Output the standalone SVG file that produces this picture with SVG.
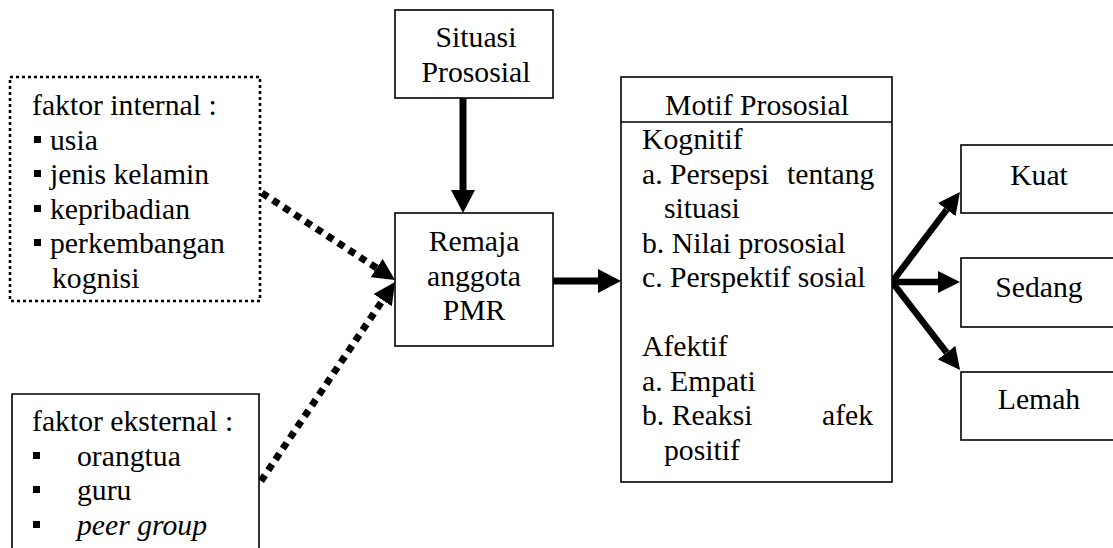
<svg xmlns="http://www.w3.org/2000/svg" width="1113" height="548" viewBox="0 0 1113 548">
<style>
text{font-family:"Liberation Serif","Times New Roman",Times,Tinos,"Nimbus Roman","Nimbus Roman No9 L",FreeSerif,"DejaVu Serif","Noto Serif",serif;font-size:29.7px;fill:#000}
.c{text-anchor:middle}
.box{fill:#fff;stroke:#000;stroke-width:1.6}
.dotbox{fill:#fff;stroke:#000;stroke-width:2.6;stroke-dasharray:3 3}
.solid{stroke:#000;stroke-width:7;fill:none}
.fan{stroke:#000;stroke-width:6.5;fill:none}
.dots{stroke:#000;stroke-width:7;stroke-dasharray:7 6;fill:none}
.bul{fill:#000}
</style>
<defs>
<marker id="ah" markerUnits="userSpaceOnUse" viewBox="0 -12 23 24" refX="0" refY="0" markerWidth="23" markerHeight="24" orient="auto">
<path d="M0,-12 L23,0 L0,12 z" fill="#000"/>
</marker>
<marker id="ah2" markerUnits="userSpaceOnUse" viewBox="0 -11 22 22" refX="0" refY="0" markerWidth="22" markerHeight="22" orient="auto">
<path d="M0,-11 L22,0 L0,11 z" fill="#000"/>
</marker>
</defs>

<g id="connectors">
<line class="solid" x1="463" y1="98" x2="463" y2="190" marker-end="url(#ah)"/>
<line class="solid" x1="553" y1="281" x2="598" y2="281" marker-end="url(#ah)"/>
<line class="dots" x1="262" y1="193" x2="376.6" y2="268" marker-end="url(#ah2)"/>
<line class="dots" x1="261" y1="481" x2="382.7" y2="300.2" marker-end="url(#ah2)"/>
<line class="fan" x1="892" y1="282" x2="946.7" y2="209.6" marker-end="url(#ah2)"/>
<line class="fan" x1="892" y1="282" x2="938" y2="282" marker-end="url(#ah2)"/>
<line class="fan" x1="892" y1="282" x2="946.6" y2="352.6" marker-end="url(#ah2)"/>
</g>

<g id="internal">
<rect class="dotbox" x="10" y="77" width="250" height="224"/>
<text x="32" y="115">faktor internal :</text>
<rect class="bul" x="34" y="136" width="7" height="7"/>
<text x="50" y="150">usia</text>
<rect class="bul" x="34" y="170" width="7" height="7"/>
<text x="50" y="184">jenis kelamin</text>
<rect class="bul" x="34" y="205" width="7" height="7"/>
<text x="50" y="219">kepribadian</text>
<rect class="bul" x="34" y="239" width="7" height="7"/>
<text x="50" y="253">perkembangan</text>
<text x="52" y="288">kognisi</text>
</g>

<g id="external">
<path class="box" d="M12,552 L12,394 L259,394 L259,552"/>
<text x="32" y="431">faktor eksternal :</text>
<rect class="bul" x="33" y="452" width="7" height="7"/>
<text x="77" y="465.5">orangtua</text>
<rect class="bul" x="33" y="486" width="7" height="7"/>
<text x="77" y="500">guru</text>
<rect class="bul" x="33" y="521" width="7" height="7"/>
<text x="77" y="534.5" font-style="italic">peer group</text>
</g>

<g id="situasi">
<rect class="box" x="395" y="10" width="158" height="88"/>
<text class="c" x="476" y="47">Situasi</text>
<text class="c" x="476" y="82">Prososial</text>
</g>

<g id="remaja">
<rect class="box" x="395" y="213" width="158" height="133"/>
<text class="c" x="474" y="251">Remaja</text>
<text class="c" x="474" y="285.5">anggota</text>
<text class="c" x="474" y="320">PMR</text>
</g>

<g id="motif">
<rect class="box" x="621" y="77" width="271" height="405"/>
<line x1="621" y1="122" x2="892" y2="122" stroke="#000" stroke-width="1.6"/>
<text class="c" x="757" y="115">Motif Prososial</text>
<text x="642" y="149">Kognitif</text>
<text y="183.5"><tspan x="642">a. Persepsi</tspan><tspan x="787">tentang</tspan></text>
<text x="664" y="218">situasi</text>
<text x="642" y="252.5">b. Nilai prososial</text>
<text x="642" y="287">c. Perspektif sosial</text>
<text x="642" y="356">Afektif</text>
<text x="642" y="390.5">a. Empati</text>
<text y="425"><tspan x="642">b. Reaksi</tspan><tspan x="822">afek</tspan></text>
<text x="664" y="459.5">positif</text>
</g>

<g id="kuat">
<rect class="box" x="961" y="145" width="160" height="68"/>
<text class="c" x="1039" y="185">Kuat</text>
</g>

<g id="sedang">
<rect class="box" x="961" y="258" width="160" height="69"/>
<text class="c" x="1039" y="297">Sedang</text>
</g>

<g id="lemah">
<rect class="box" x="961" y="372" width="160" height="68"/>
<text class="c" x="1039" y="409">Lemah</text>
</g>
</svg>
